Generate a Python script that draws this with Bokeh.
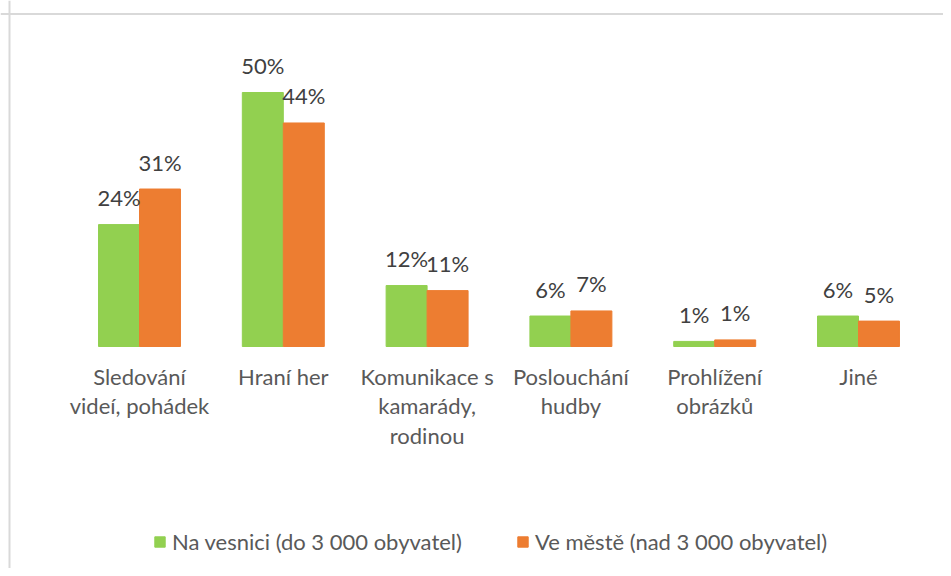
from bokeh.plotting import figure
from bokeh.models import ColumnDataSource, Range1d, Legend, LegendItem, Span
from bokeh.transform import dodge
from bokeh.core.properties import value
from bokeh.embed import file_html
from bokeh.resources import INLINE

# ---- data ----
categories = [
    "Sledování\nvideí, pohádek",
    "Hraní her",
    "Komunikace s\nkamarády,\nrodinou",
    "Poslouchání\nhudby",
    "Prohlížení\nobrázků",
    "Jiné",
]
village = [24, 50, 12, 6, 1.0, 6]
city = [31, 44, 11, 7, 1.3, 5]
series_names = ["Na vesnici (do 3 000 obyvatel)", "Ve městě (nad 3 000 obyvatel)"]

# ---- layout constants ----
W, H = 943, 568
PX_X = 143.8          # pixels per category
FIRST_X = 139         # px from frame left to first category centre
PX_Y = 5.08           # pixels per percent
BASE_Y = 346          # px from frame top to 0 %
BAR_W = 0.285
FONT = "Lato"
GREEN = "#92D050"
ORANGE = "#ED7D31"

x_start = -FIRST_X / PX_X
x_end = x_start + W / PX_X
y_end = BASE_Y / PX_Y
y_start = y_end - H / PX_Y

src = ColumnDataSource(dict(
    x=list(range(len(categories))),
    cat=categories,
    village=village,
    city=city,
    vlab=[f"{round(v)}%" for v in village],
    clab=[f"{round(v)}%" for v in city],
    zero=[0] * len(categories),
))

p = figure(width=W, height=H, output_backend="svg", toolbar_location=None,
           x_range=Range1d(x_start, x_end), y_range=Range1d(y_start, y_end),
           min_border=0, x_axis_location=None, y_axis_location=None)
p.grid.visible = False
p.outline_line_color = None
p.background_fill_color = "white"
p.border_fill_color = "white"

r1 = p.vbar(x=dodge("x", -BAR_W / 2, range=p.x_range), top="village", width=BAR_W,
            source=src, fill_color=GREEN, line_color=GREEN)
r2 = p.vbar(x=dodge("x", BAR_W / 2, range=p.x_range), top="city", width=BAR_W,
            source=src, fill_color=ORANGE, line_color=ORANGE)

p.text(x=dodge("x", -BAR_W / 2, range=p.x_range), y="village", text="vlab", source=src,
       text_align="center", text_baseline="alphabetic", y_offset=-27,
       text_font=value(FONT), text_font_size="22px", text_color="#404040")
p.text(x=dodge("x", BAR_W / 2, range=p.x_range), y="city", text="clab", source=src,
       text_align="center", text_baseline="alphabetic", y_offset=-27,
       text_font=value(FONT), text_font_size="22px", text_color="#404040")

p.text(x="x", y="zero", text="cat", source=src, text_align="center",
       text_baseline="top", y_offset=16, text_line_height=1.1,
       text_font=value(FONT), text_font_size="22px", text_color="#595959")

# chart border (top and left edges visible)
p.add_layout(Span(location=y_end - 13.5 / PX_Y, dimension="width",
                  line_color="#D9D9D9", line_width=2))
p.add_layout(Span(location=x_start + 9 / PX_X, dimension="height",
                  line_color="#D9D9D9", line_width=2))

legend = Legend(items=[LegendItem(label=series_names[0], renderers=[r1]),
                       LegendItem(label=series_names[1], renderers=[r2])],
                orientation="horizontal", location=(153, 13),
                glyph_width=13, glyph_height=13, label_standoff=6, spacing=54,
                padding=0, margin=0, border_line_color=None,
                background_fill_alpha=0, label_text_font=FONT,
                label_text_font_size="22px", label_text_color="#595959",
                label_height=24)
p.add_layout(legend)

open("out.html", "w").write(file_html(p, INLINE))
